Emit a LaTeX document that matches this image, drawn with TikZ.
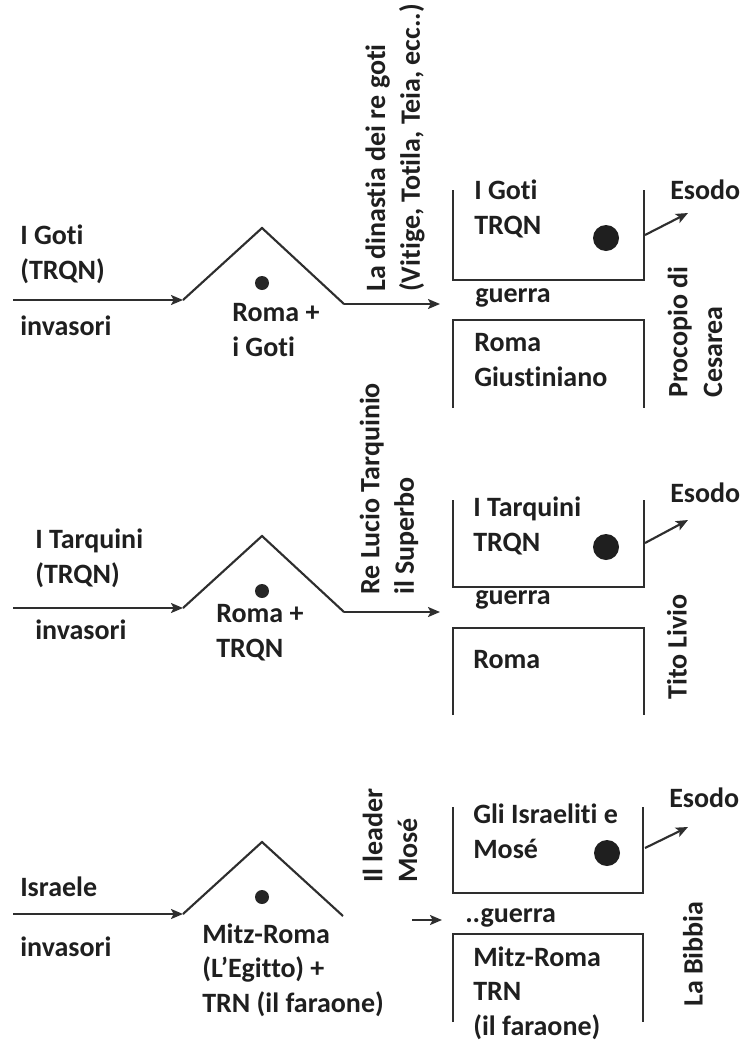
\documentclass[tikz,border=0pt]{standalone}
\usepackage{fontspec}
\setmainfont{Carlito}[Ligatures=NoCommon]
\usetikzlibrary{arrows.meta}
\begin{document}
\begin{tikzpicture}[x=0.75pt,y=-0.75pt,
  ink/.style={draw=black!82, line width=1.6pt},
  arr/.style={ink, -{Stealth[length=9pt,width=7.5pt,inset=2pt]}},
  lbl/.style={anchor=west, inner sep=0pt, align=left,
    font=\fontsize{21}{26}\selectfont\bfseries, text=black!88},
  vlbl/.style={lbl, rotate=90},
  dot/.style={circle, fill=black!85, inner sep=0pt, minimum size=10.5pt},
  bigdot/.style={circle, fill=black!88, inner sep=0pt, minimum size=19.5pt},
]
\useasboundingbox (0,0) rectangle (742,1046);

% ---------- I Goti ----------
\node[lbl] (who1) at (20,254) {I Goti\\(TRQN)};
\node[lbl] (inv1) at (20,326) {invasori};
\coordinate (s1) at (13,300);
\coordinate (l1) at (183,300);
\coordinate (p1) at (262,228);
\coordinate (r1) at (344,304);
\coordinate (e1) at (440,304);
\draw[arr] (s1) -- (l1);
\draw[ink] (l1) -- (p1) -- (r1);
\draw[arr] (r1) -- (e1);
\node[dot] (d1) at (262,283) {};
\node[lbl] (in1) at (232,330) {Roma +\\i Goti};
\node[vlbl] (lead1) at (395,292) {La dinastia dei re goti\\(Vitige, Totila, Teia, ecc..)};
% upper box
\coordinate (ta1) at (453,190);
\coordinate (tb1) at (453,280);
\coordinate (tc1) at (644,280);
\coordinate (td1) at (644,190);
\draw[ink] (ta1) -- (tb1) -- (tc1) -- (td1);
\node[lbl] (top1) at (474,209) {I Goti\\TRQN};
\node[bigdot] (bd1) at (606,238) {};
\coordinate (xa1) at (645,235);
\coordinate (xb1) at (688,213);
\draw[arr] (xa1) -- (xb1);
\node[lbl] (ex1) at (670,190) {Esodo};
\node[lbl] (war1) at (475,298) {guerra};
% lower box
\coordinate (ba1) at (453,408);
\coordinate (bb1) at (453,320);
\coordinate (bc1) at (644,320);
\coordinate (bd1x) at (644,408);
\draw[ink] (ba1) -- (bb1) -- (bc1) -- (bd1x);
\node[lbl] (bot1) at (474,360) {Roma\\Giustiniano};
\node[vlbl] (src1) at (695,398) {Procopio di\\Cesarea};

% ---------- I Tarquini ----------
\node[lbl] (who2) at (35,558) {I Tarquini\\(TRQN)};
\node[lbl] (inv2) at (35,630) {invasori};
\coordinate (s2) at (13,608);
\coordinate (l2) at (183,608);
\coordinate (p2) at (262,536);
\coordinate (r2) at (344,612);
\coordinate (e2) at (440,612);
\draw[arr] (s2) -- (l2);
\draw[ink] (l2) -- (p2) -- (r2);
\draw[arr] (r2) -- (e2);
\node[dot] (d2) at (262,591) {};
\node[lbl] (in2) at (216,633) {Roma +\\TRQN};
\node[vlbl] (lead2) at (389,595) {Re Lucio Tarquinio\\il Superbo};
\coordinate (ta2) at (453,500);
\coordinate (tb2) at (453,587);
\coordinate (tc2) at (644,587);
\coordinate (td2) at (644,500);
\draw[ink] (ta2) -- (tb2) -- (tc2) -- (td2);
\node[lbl] (top2) at (473,526) {I Tarquini\\TRQN};
\node[bigdot] (bd2) at (606,547) {};
\coordinate (xa2) at (645,543);
\coordinate (xb2) at (688,520);
\draw[arr] (xa2) -- (xb2);
\node[lbl] (ex2) at (670,493) {Esodo};
\node[lbl] (war2) at (475,600) {guerra};
\coordinate (ba2) at (453,715);
\coordinate (bb2) at (453,628);
\coordinate (bc2) at (644,628);
\coordinate (bd2x) at (644,715);
\draw[ink] (ba2) -- (bb2) -- (bc2) -- (bd2x);
\node[lbl] (bot2) at (473,660) {Roma};
\node[vlbl] (src2) at (677,700) {Tito Livio};

% ---------- Israele ----------
\node[lbl] (who3) at (20,887) {Israele};
\node[lbl] (inv3) at (20,947) {invasori};
\coordinate (s3) at (13,914);
\coordinate (l3) at (183,914);
\coordinate (p3) at (262,842);
\coordinate (r3) at (343,916);
\draw[arr] (s3) -- (l3);
\draw[ink] (l3) -- (p3) -- (r3);
\coordinate (ea3) at (412,920);
\coordinate (e3) at (442,920);
\draw[arr] (ea3) -- (e3);
\node[dot] (d3) at (262,897) {};
\node[lbl] (in3) at (202,970) {Mitz-Roma\\(L’Egitto) +\\TRN (il faraone)};
\node[vlbl] (lead3) at (390,883) {Il leader\\Mosé};
\coordinate (ta3) at (453,807);
\coordinate (tb3) at (453,893);
\coordinate (tc3) at (643,893);
\coordinate (td3) at (643,807);
\draw[ink] (ta3) -- (tb3) -- (tc3) -- (td3);
\node[lbl] (top3) at (473,831) {Gli Israeliti e\\Mosé};
\node[bigdot] (bd3) at (607,853) {};
\coordinate (xa3) at (645,848);
\coordinate (xb3) at (688,827);
\draw[arr] (xa3) -- (xb3);
\node[lbl] (ex3) at (669,798) {Esodo};
\node[lbl] (war3) at (465,918) {..guerra};
\coordinate (ba3) at (453,1022);
\coordinate (bb3) at (453,934);
\coordinate (bc3) at (643,934);
\coordinate (bd3x) at (643,1022);
\draw[ink] (ba3) -- (bb3) -- (bc3) -- (bd3x);
\node[lbl] (bot3) at (473,993) {Mitz-Roma\\TRN\\(il faraone)};
\node[vlbl] (src3) at (693,1007) {La Bibbia};
\end{tikzpicture}
\end{document}
